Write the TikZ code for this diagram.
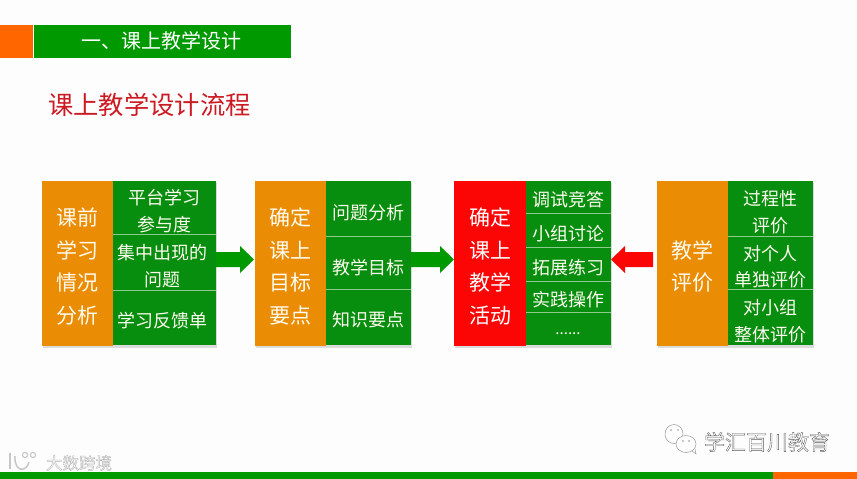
\documentclass[tikz,border=0pt]{standalone}
\usepackage{fontspec}
\setmainfont{Noto Sans CJK SC}
\usetikzlibrary{calc}
\definecolor{bggray}{HTML}{FDFDFD}
\definecolor{barorange}{HTML}{FF6600}
\definecolor{bargreen}{HTML}{009900}
\definecolor{cellgreen}{HTML}{078E0F}
\definecolor{boxorange}{HTML}{EA8C04}
\definecolor{boxred}{HTML}{FB0505}
\definecolor{titlered}{HTML}{CC1A22}
\definecolor{divline}{HTML}{8CCB8C}
\definecolor{cream}{HTML}{FFFBEF}
\newcommand{\fsz}[2]{\fontsize{#1pt}{#2pt}\selectfont}
\newcommand{\outlined}[2]{\special{pdf:code 1 Tr #1 w}#2\special{pdf:code 0 Tr}}
\tikzset{
  x=1pt,y=-1pt,
  every node/.style={inner sep=0pt,outer sep=0pt},
  sideshadow/.style={fill=black!30,opacity=.45},
  lead/.style={align=center,text=cream,font=\fsz{21}{32.5}},
  leadb/.style={align=center,text=white,font=\fsz{21}{32.5}},
  item/.style={text=cream,font=\fsz{18}{18},yshift=-1pt},
  divider/.style={draw=divline,line width=.7pt},
}
\newcommand{\groupbox}[7]{% name, x0, xm, x1, color, y0, y1
  \fill[sideshadow] (#2+1,#6+2) rectangle (#4+1,#7+1.5);
  \fill[#5] (#2,#6) rectangle (#3,#7);
  \fill[cellgreen] (#3,#6) rectangle (#4,#7-1);
}
\newcommand{\blockarrow}[3]{% from, to, colour (horizontal)
  \path[fill=#3] let \p1=(#1),\p2=(#2),\n1={\x2>\x1?14pt:-14pt} in
    (\x1,\y2+7.5pt) -- (\x2-\n1,\y2+7.5pt) -- (\x2-\n1,\y2+13.5pt) -- (\x2,\y2)
    -- (\x2-\n1,\y2-13.5pt) -- (\x2-\n1,\y2-7.5pt) -- (\x1,\y2-7.5pt) -- cycle;
}
\begin{document}
\begin{tikzpicture}
\useasboundingbox (0,0) rectangle (857,479);
\fill[bggray] (0,0) rectangle (857,479);
% top bar
\fill[barorange] (0,25) rectangle (33,58);
\fill[bargreen] (34,25) rectangle (291,58);
\node[text=white,font=\fsz{20}{20}] (head) at (161.5,40.5) {一、课上教学设计};
\node[text=titlered,font=\fsz{25.3}{25.3}] (title) at (149.5,104.5) {课上教学设计流程};
% group 1
\groupbox{ga}{42}{113}{216}{boxorange}{181}{346}
\draw[divider] (113,234) -- (216,234);
\draw[divider] (113,290) -- (216,290);
\node[lead] (ga0) at (77.5,266.5) {课前\\学习\\情况\\分析};
\node[item] (ga1) at (164.5,197) {平台学习};
\node[item] (ga2) at (164.5,224) {参与度};
\node[item] (ga3) at (162.5,252) {集中出现的};
\node[item] (ga4) at (162.5,279) {问题};
\node[item] (ga5) at (162.5,320) {学习反馈单};
% group 2
\groupbox{gb}{255}{326}{411}{boxorange}{181}{346}
\draw[divider] (326,236) -- (411,236);
\draw[divider] (326,289) -- (411,289);
\node[lead] (gb0) at (290.5,266.5) {确定\\课上\\目标\\要点};
\node[item] (gb1) at (368.5,212) {问题分析};
\node[item] (gb2) at (368.5,267) {教学目标};
\node[item] (gb3) at (368.5,319) {知识要点};
% group 3
\groupbox{gc}{454}{526}{611}{boxred}{181}{346}
\draw[divider] (526,213) -- (611,213);
\draw[divider] (526,247) -- (611,247);
\draw[divider] (526,281) -- (611,281);
\draw[divider] (526,312) -- (611,312);
\node[leadb] (gc0) at (490,266.5) {确定\\课上\\教学\\活动};
\node[item] (gc1) at (568,199) {调试竞答};
\node[item] (gc2) at (568,233) {小组讨论};
\node[item] (gc3) at (568,267) {拓展练习};
\node[item] (gc4) at (568,299) {实践操作};
\node[item,font=\fsz{15}{15}] (gc5) at (568,333) {......};
% group 4
\groupbox{gd}{657}{728}{813}{boxorange}{181}{346}
\draw[divider] (728,236) -- (813,236);
\draw[divider] (728,289) -- (813,289);
\node[lead] (gd0) at (692.5,266.5) {教学\\评价};
\node[item] (gd1) at (770.5,198) {过程性};
\node[item] (gd2) at (770.5,225) {评价};
\node[item] (gd3) at (770.5,253) {对个人};
\node[item] (gd4) at (770.5,279) {单独评价};
\node[item] (gd5) at (770.5,307) {对小组};
\node[item] (gd6) at (770.5,334) {整体评价};
% block arrows
\coordinate (a1) at (216,259.5);
\coordinate (a2) at (254,259.5);
\coordinate (b1) at (411,259.5);
\coordinate (b2) at (454,259.5);
\coordinate (c1) at (653,259.5);
\coordinate (c2) at (611,259.5);
\blockarrow{a1}{a2}{bargreen}
\blockarrow{b1}{b2}{bargreen}
\blockarrow{c1}{c2}{boxred}
% bottom bar
\fill[bargreen] (0,472) rectangle (773,479);
\fill[barorange] (773,472) rectangle (857,479);
% watermarks
\draw[black!40,line width=.5pt,fill=bggray] (674,434) ellipse (9 and 9.5);
\draw[black!40,line width=.5pt,fill=bggray] (686,444) ellipse (10 and 8.5);
\draw[black!40,line width=.5pt] (692,451) -- (696,454) -- (695,449);
\fill[black!40] (671,430) circle (.9) (678,430) circle (.9) (683,441) circle (.8) (689,441) circle (.8);
\node[text=black!65,font=\fsz{21}{21}] (wm) at (767,442) {\outlined{.35}{学汇百川教育}};
\node[text=black!28,font=\fsz{16.5}{16.5}] (wm2) at (79,463) {\outlined{.4}{大数跨境}};
\draw[black!22,line width=1.5pt] (10,453) -- (10,469);
\draw[black!22,line width=1.5pt] (15,456) .. controls (14,473) and (27,472) .. (29,462);
\draw[black!22,line width=1.1pt] (25,455) circle (2.6) (33,455) circle (2.6);
\end{tikzpicture}
\end{document}
